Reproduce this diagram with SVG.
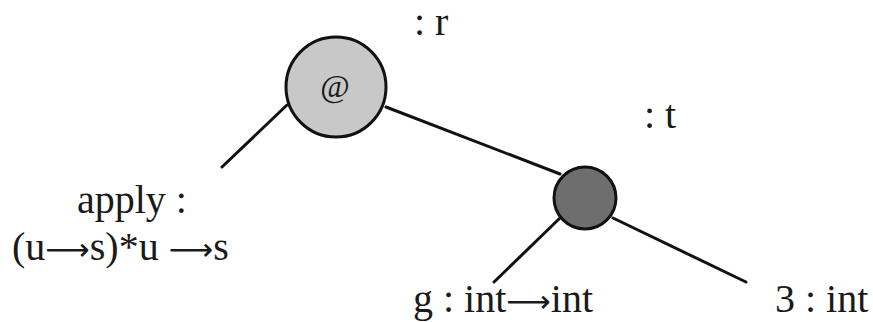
<svg xmlns="http://www.w3.org/2000/svg" width="873" height="322" viewBox="0 0 873 322">
<style>
.t{font-family:"Liberation Serif","Times New Roman",serif;font-size:40px;fill:#1a1a1a}
.a{font-family:"DejaVu Sans",sans-serif;font-size:31px}
.e{stroke:#111;stroke-width:3;fill:none;stroke-linecap:round}
.n{stroke:#111;stroke-width:3}
</style>
<rect width="873" height="322" fill="#fff"/>
<g id="connectors">
<line class="e" x1="287" y1="105" x2="222" y2="167"/>
<line class="e" x1="386" y1="107" x2="560" y2="174"/>
<line class="e" x1="560" y1="218" x2="494" y2="282"/>
<line class="e" x1="613" y1="218" x2="746" y2="282"/>
</g>
<g id="apply-node">
<circle class="n" cx="336" cy="87" r="50" fill="#c8c8c8"/>
<text class="t" x="335" y="97" text-anchor="middle" style="font-size:32px">@</text>
<text class="t" x="414" y="35">: r</text>
</g>
<g id="pair-node">
<circle class="n" cx="585" cy="198" r="31" fill="#6e6e6e"/>
<text class="t" x="644" y="128">: t</text>
</g>
<g id="apply-leaf">
<text class="t" x="77" y="213">apply :</text>
<text class="t" x="12" y="260">(u<tspan class="a">⟶</tspan>s)*u <tspan class="a">⟶</tspan>s</text>
</g>
<g id="g-leaf">
<text class="t" x="413" y="312">g : int<tspan class="a">⟶</tspan>int</text>
</g>
<g id="three-leaf">
<text class="t" x="775" y="312">3 : int</text>
</g>
</svg>
